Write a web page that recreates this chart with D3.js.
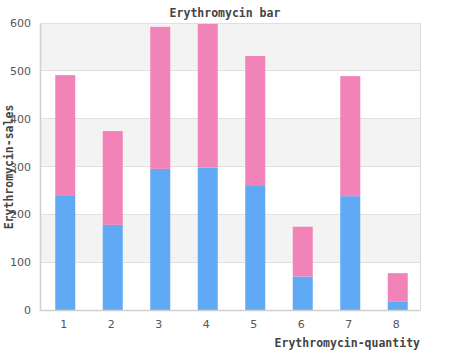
<!DOCTYPE html>
<html><head><meta charset="utf-8">
<script src="https://cdn.jsdelivr.net/npm/d3@7"></script>
<style>body{margin:0;background:#fff}</style>
</head><body>
<script>
const categories = ["1","2","3","4","5","6","7","8"];
const seriesBlue = [240,178,295,298,261,70,238,17];
const seriesPink = [251,196,297,300,270,104,251,60];
const yTicks = [0,100,200,300,400,500,600];

const W=450,H=350, L=40,R=420,T=23,B=310;
const svg=d3.select("body").append("svg").attr("width",W).attr("height",H);
const x=d3.scaleBand().domain(categories).range([L,R]);
const y=d3.scaleLinear().domain([0,600]).range([B,T]);

// alternating bands
const bands=d3.range(0,600,100);
svg.selectAll("rect.band").data(bands).enter().append("rect")
  .attr("x",L).attr("width",R-L)
  .attr("y",d=>y(d+100)).attr("height",d=>y(d)-y(d+100))
  .attr("fill",d=>(d/100)%2===1?"#f3f3f3":"#ffffff");
// grid lines
svg.selectAll("line.grid").data(yTicks).enter().append("line")
  .attr("x1",L).attr("x2",R).attr("y1",d=>y(d)).attr("y2",d=>y(d))
  .attr("stroke","#e0e0e0").attr("stroke-width",1).attr("shape-rendering","crispEdges");
// right border
svg.append("line").attr("x1",R).attr("x2",R).attr("y1",T).attr("y2",B)
  .attr("stroke","#dcdcdc").attr("shape-rendering","crispEdges");

const bw=20, off=1.5;
const stack=categories.map((c,i)=>({c,b:seriesBlue[i],p:seriesPink[i]}));
svg.selectAll("rect.blue").data(stack).enter().append("rect")
  .attr("x",d=>x(d.c)+(x.bandwidth()-bw)/2+off).attr("width",bw)
  .attr("y",d=>y(d.b)).attr("height",d=>y(0)-y(d.b)).attr("fill","#60a9f5");
svg.selectAll("rect.pink").data(stack).enter().append("rect")
  .attr("x",d=>x(d.c)+(x.bandwidth()-bw)/2+off).attr("width",bw)
  .attr("y",d=>y(d.b+d.p)).attr("height",d=>y(d.b)-y(d.b+d.p)).attr("fill","#f283b9");

// axes
const xAxis=svg.append("g").attr("transform",`translate(0,${B})`)
  .call(d3.axisBottom(x).tickSize(0).tickPadding(10));
const yAxis=svg.append("g").attr("transform",`translate(${L},0)`)
  .call(d3.axisLeft(y).tickValues(yTicks).tickSize(0).tickPadding(9));
[xAxis,yAxis].forEach(g=>{
  g.select(".domain").attr("stroke","#d0d0d0").attr("stroke-width",1.5);
  g.selectAll("text").attr("fill","#555").attr("font-family","DejaVu Sans, sans-serif").attr("font-size","11px");
});

const mono="DejaVu Sans Mono, monospace";
svg.append("text").attr("x",225).attr("y",17).attr("text-anchor","middle")
  .attr("font-family",mono).attr("font-weight","bold").attr("font-size","11.5px").attr("fill","#444")
  .text("Erythromycin bar");
svg.append("text").attr("x",420).attr("y",347).attr("text-anchor","end")
  .attr("font-family",mono).attr("font-weight","bold").attr("font-size","11.5px").attr("fill","#444")
  .text("Erythromycin-quantity");
svg.append("text").attr("transform","translate(13,167) rotate(-90)").attr("text-anchor","middle")
  .attr("font-family",mono).attr("font-weight","bold").attr("font-size","11.5px").attr("fill","#444")
  .text("Erythromycin-sales");
</script>
</body></html>
